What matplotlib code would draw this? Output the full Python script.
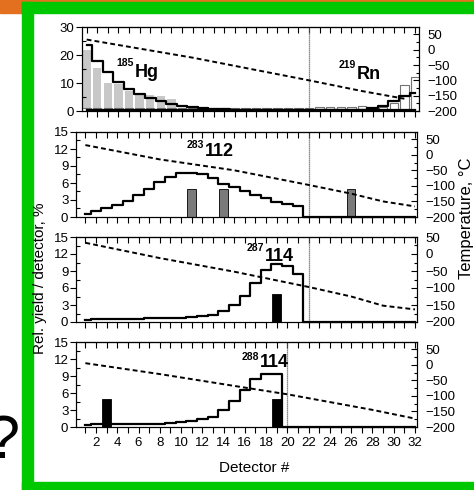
import matplotlib
matplotlib.use('Agg')
import matplotlib.pyplot as plt
from matplotlib.patches import Rectangle
from matplotlib.ticker import NullFormatter

plt.rcParams['font.family'] = ['Liberation Sans', 'DejaVu Sans']

# 探测器编号
dets = list(range(1, 33))

# 第一幅: 185Hg 与 219Rn
hg_exp_det = [1, 2, 3, 4, 5, 6, 7, 8, 9]
hg_exp = [21.8, 15.2, 10.1, 9.6, 7.0, 5.7, 5.6, 5.2, 4.3]
rn_exp = [1.2, 1.2, 1.2, 1.2, 1.2, 1.2, 1.2, 1.2, 1.2, 1.2, 1.2, 1.2, 1.2, 1.2, 1.2, 1.2,
          1.2, 1.2, 1.2, 1.2, 1.2, 1.2, 1.4, 1.4, 1.3, 1.4, 1.9, 1.2, 1.5, 2.7, 9.4, 12.0]
hg_sim = [23.4, 17.9, 13.8, 10.2, 7.8, 5.9, 4.6, 3.4, 2.5, 1.8, 1.3, 0.9, 0.7, 0.6, 0.5, 0.5,
          0.5, 0.5, 0.5, 0.5, 0.5, 0.5, 0.5, 0.5, 0.5, 0.5, 0.5, 0.5, 0.5, 0.5, 0.5, 0.5]
rn_sim = [0.5, 0.5, 0.5, 0.5, 0.5, 0.5, 0.5, 0.5, 0.5, 0.5, 0.5, 0.5, 0.5, 0.5, 0.5, 0.5,
          0.5, 0.5, 0.5, 0.5, 0.5, 0.5, 0.5, 0.5, 0.5, 0.5, 0.5, 0.9, 1.8, 3.5, 5.5, 6.6]
t1_det = [1, 11, 22, 27, 31]
t1 = [33, -26, -100, -135, -160]

# 第二幅: 283-112
p2_sim = [0.6, 1.07, 1.5, 2.1, 2.85, 3.85, 4.9, 6.1, 7.1, 7.7, 7.8, 7.5, 6.8, 5.9, 5.3, 4.6,
          3.85, 3.3, 2.7, 2.25, 2.0, 0, 0, 0, 0, 0, 0, 0, 0, 0, 0, 0]
p2_ev_det = [11, 14, 26]
p2_ev = [5, 5, 5]
t2_det = [1, 8, 15, 22, 26, 29, 32]
t2 = [31, -15, -50, -97, -125, -150, -166]

# 第三幅: 287-114
p3_sim = [0.3, 0.5, 0.55, 0.55, 0.6, 0.6, 0.65, 0.7, 0.7, 0.75, 0.8, 1.0, 1.3, 1.9, 3.0, 4.6,
          6.8, 9.2, 10.2, 9.8, 8.5, 0, 0, 0, 0, 0, 0, 0, 0, 0, 0, 0]
p3_ev_det = [19]
p3_ev = [5]
t3_det = [1, 8, 15, 22, 26, 29, 32]
t3 = [33, -12, -52, -97, -125, -152, -163]

# 第四幅: 288-114
p4_sim = [0.3, 0.45, 0.45, 0.5, 0.5, 0.5, 0.55, 0.6, 0.7, 0.8, 1.0, 1.35, 1.85, 3.0, 4.55, 6.5,
          8.4, 9.4, 9.3, 0, 0, 0, 0, 0, 0, 0, 0, 0, 0, 0, 0, 0]
p4_ev_det = [3, 19]
p4_ev = [5, 5]
t4_det = [1, 8, 15, 20, 24, 28, 32]
t4 = [5, -30, -68, -95, -120, -145, -173]

W, H = 474, 490
fig = plt.figure(figsize=(W / 100, H / 100), dpi=100)


def frac(x0, y0, x1, y1):
    # 像素框 -> 图形坐标
    return [x0 / W, 1 - y1 / H, (x1 - x0) / W, (y1 - y0) / H]


# 幻灯片边框
orange = '#e2701e'
green = '#00c800'
for x0, y0, x1, y1, c in [(0, 0, W, 2, orange), (0, 0, 22, 13, orange),
                          (22, 2, W, 13, green), (22, 2, 33, H, green),
                          (22, 482, W, H, green)]:
    b = frac(x0, y0, x1, y1)
    fig.patches.append(Rectangle((b[0], b[1]), b[2], b[3], transform=fig.transFigure,
                                 color=c, zorder=0))


def panel(rect, xlim, ymax, yticks, tmax, bottom):
    ax = fig.add_axes(frac(*rect))
    ax.set_xlim(xlim)
    ax.set_ylim(0, ymax)
    ax.set_xticks(dets)
    if bottom:
        ax.set_xticklabels([str(d) if d % 2 == 0 else '' for d in dets])
    else:
        ax.xaxis.set_major_formatter(NullFormatter())
    ax.tick_params(axis='x', direction='out', length=4, width=0.8, labelsize=9.5, pad=3)
    ax.set_yticks(yticks)
    ax.set_yticks([(a + b) / 2 for a, b in zip(yticks[:-1], yticks[1:])], minor=True)
    ax.tick_params(axis='y', which='major', direction='out', length=4, width=0.8,
                   labelsize=9.5, pad=1.5)
    ax.tick_params(axis='y', which='minor', direction='in', length=3, width=0.8)
    top = ax.secondary_xaxis('top')
    top.set_xticks(dets)
    top.xaxis.set_major_formatter(NullFormatter())
    top.tick_params(direction='in', length=4, width=0.8)
    tw = ax.twinx()
    tw.set_ylim(-200, tmax)
    tw.set_yticks([-200, -150, -100, -50, 0, 50])
    tw.set_yticks([-175, -125, -75, -25, 25], minor=True)
    tw.tick_params(axis='y', which='major', direction='in', length=4, width=0.8,
                   labelsize=9.5, pad=6)
    tw.tick_params(axis='y', which='minor', direction='in', length=2.5, width=0.8)
    for a in (ax, tw, top):
        for s in a.spines.values():
            s.set_linewidth(0.8)
    return ax, tw


def isotope(ax, x, y, ysup, mass, name):
    ax.text(x - 0.1, ysup, mass, ha='right', va='center', fontsize=7.5, fontweight='bold')
    ax.text(x, y, name, ha='left', va='center', fontsize=13, fontweight='bold')


dash = (0, (2.5, 1.6))

# 第一幅
ax, tw = panel((82, 27, 419, 111), (0.56, 32.38), 30, [0, 10, 20, 30], 74, False)
ax.bar(hg_exp_det, hg_exp, width=0.8, color='#c8c8c8', zorder=1)
ax.bar(dets, rn_exp, width=0.8, facecolor='white', edgecolor='0.45', lw=0.8, zorder=2)
ax.plot(dets, hg_sim, 'k', drawstyle='steps-mid', lw=1.6, zorder=3, clip_on=False)
ax.plot(dets, rn_sim, 'k', drawstyle='steps-mid', lw=1.6, zorder=3, clip_on=False)
ax.axvline(22, color='0.4', lw=0.9, ls=(0, (1, 0.6)))
isotope(ax, 5.55, 13.9, 17.0, '185', 'Hg')
isotope(ax, 26.5, 12.9, 16.4, '219', 'Rn')
tw.plot(t1_det, t1, 'k', ls=dash, lw=1.4)

# 第二至四幅
rows = [
    ((76, 132, 417, 217), p2_sim, p2_ev_det, p2_ev, '#7a7a7a', t2_det, t2, 73, 22,
     (12.25, 11.5, 12.7, '283', '112'), False),
    ((76, 237, 417, 322), p3_sim, p3_ev_det, p3_ev, 'black', t3_det, t3, 50, 22,
     (17.9, 11.6, 13.1, '287', '114'), False),
    ((76, 342, 417, 427), p4_sim, p4_ev_det, p4_ev, 'black', t4_det, t4, 73, 20,
     (17.4, 11.3, 12.35, '288', '114'), True),
]
for rect, sim, ev_det, ev, col, tdet, temp, tmax, vx, lab, bottom in rows:
    ax, tw = panel(rect, (0.12, 32.19), 15, [0, 3, 6, 9, 12, 15], tmax, bottom)
    ax.bar(ev_det, ev, width=0.8, color=col, edgecolor='black', lw=0.6, zorder=2)
    ax.plot(dets, sim, 'k', drawstyle='steps-mid', lw=1.6, zorder=3, clip_on=False)
    ax.axvline(vx, color='0.4', lw=0.9, ls=(0, (1, 0.6)))
    isotope(ax, lab[0], lab[1], lab[2], lab[3], lab[4])
    tw.plot(tdet, temp, 'k', ls=dash, lw=1.4)

# 坐标轴标题
fig.text(254 / W, 1 - 468 / H, 'Detector #', ha='center', va='center', fontsize=11)
fig.text(40 / W, 1 - 278 / H, 'Rel. yield / detector, %', ha='center', va='center',
         rotation=90, fontsize=11)
fig.text(467 / W, 1 - 218 / H, 'Temperature, °C', ha='center', va='center',
         rotation=90, fontsize=12)
fig.text(19 / W, 1 - 458 / H, '?', ha='right', va='baseline', fontsize=44)

fig.savefig('out.png', dpi=100)
